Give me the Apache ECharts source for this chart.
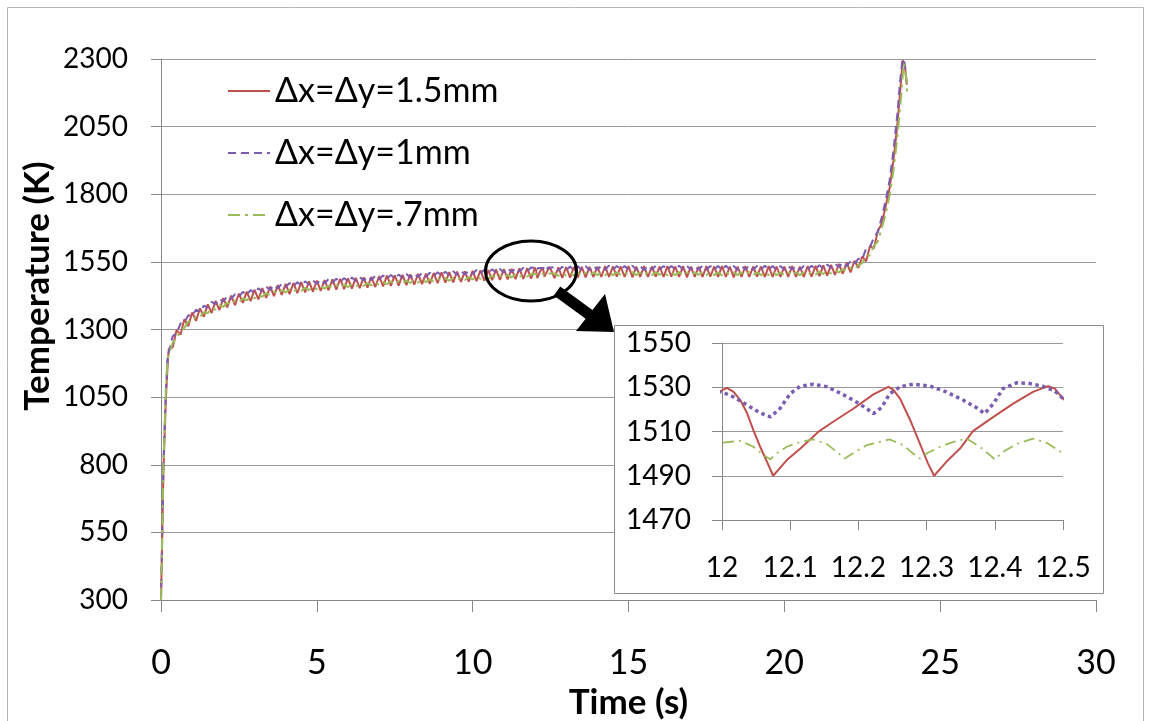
<!DOCTYPE html>
<html>
<head>
<meta charset="utf-8">
<script src="https://cdn.jsdelivr.net/npm/echarts@6/dist/echarts.min.js"></script>
<style>
  html, body { margin: 0; padding: 0; background: #ffffff; }
  #chart { width: 1151px; height: 721px; }
</style>
</head>
<body>
<div id="chart"></div>
<script>
// Series names (grid spacing of each simulation)
const seriesNames = ['Δx=Δy=1.5mm', 'Δx=Δy=1mm', 'Δx=Δy=.7mm'];

// Axis titles and ticks
const timeTitle = 'Time (s)';
const tempTitle = 'Temperature (K)';
const timeTicks = [0, 5, 10, 15, 20, 25, 30];
const tempTicks = [300, 550, 800, 1050, 1300, 1550, 1800, 2050, 2300];
const detailTimeTicks = [12, 12.1, 12.2, 12.3, 12.4, 12.5];
const detailTempTicks = [1470, 1490, 1510, 1530, 1550];

// Initial heating ramp [time s, temperature K]
const rampRed = [[0, 300], [0.04, 540], [0.08, 790], [0.16, 1050], [0.22, 1185]];
const rampPurple = [[0, 300], [0.04, 560], [0.08, 815], [0.15, 1060], [0.21, 1195]];
const rampGreen = [[0, 300], [0.04, 550], [0.08, 800], [0.15, 1055], [0.21, 1190]];

// Sampling times of the oscillating plateau (s)
const plateauTimes = [
  0.25, 0.375, 0.5, 0.625, 0.75, 0.875,
  1, 1.125, 1.25, 1.375, 1.5, 1.625, 1.75, 1.875,
  2, 2.125, 2.25, 2.375, 2.5, 2.625, 2.75, 2.875,
  3, 3.125, 3.25, 3.375, 3.5, 3.625, 3.75, 3.875,
  4, 4.125, 4.25, 4.375, 4.5, 4.625, 4.75, 4.875,
  5, 5.125, 5.25, 5.375, 5.5, 5.625, 5.75, 5.875,
  6, 6.125, 6.25, 6.375, 6.5, 6.625, 6.75, 6.875,
  7, 7.125, 7.25, 7.375, 7.5, 7.625, 7.75, 7.875,
  8, 8.125, 8.25, 8.375, 8.5, 8.625, 8.75, 8.875,
  9, 9.125, 9.25, 9.375, 9.5, 9.625, 9.75, 9.875,
  10, 10.125, 10.25, 10.375, 10.5, 10.625, 10.75, 10.875,
  11, 11.125, 11.25, 11.375, 11.5, 11.625, 11.75, 11.875,
  12.625, 12.75, 12.875,
  13, 13.125, 13.25, 13.375, 13.5, 13.625, 13.75, 13.875,
  14, 14.125, 14.25, 14.375, 14.5, 14.625, 14.75, 14.875,
  15, 15.125, 15.25, 15.375, 15.5, 15.625, 15.75, 15.875,
  16, 16.125, 16.25, 16.375, 16.5, 16.625, 16.75, 16.875,
  17, 17.125, 17.25, 17.375, 17.5, 17.625, 17.75, 17.875,
  18, 18.125, 18.25, 18.375, 18.5, 18.625, 18.75, 18.875,
  19, 19.125, 19.25, 19.375, 19.5, 19.625, 19.75, 19.875,
  20, 20.125, 20.25, 20.375, 20.5, 20.625, 20.75, 20.875,
  21, 21.125, 21.25, 21.375, 21.5, 21.625, 21.75, 21.875,
  22, 22.125, 22.25
];

// Plateau temperatures (K), one per sampling time
const plateauRed = [
  1228, 1234, 1298, 1281, 1338, 1312,
  1363, 1332, 1378, 1347, 1393, 1361, 1406, 1372,
  1416, 1382, 1425, 1390, 1433, 1398, 1440, 1405,
  1447, 1411, 1453, 1417, 1459, 1423, 1464, 1428,
  1469, 1431, 1472, 1434, 1475, 1437, 1478, 1440,
  1481, 1443, 1483, 1445, 1485, 1447, 1487, 1449,
  1489, 1451, 1491, 1453, 1493, 1455, 1495, 1457,
  1497, 1459, 1499, 1461, 1500, 1462, 1502, 1464,
  1504, 1466, 1506, 1468, 1507, 1469, 1509, 1471,
  1511, 1473, 1512, 1474, 1514, 1476, 1515, 1477,
  1517, 1479, 1519, 1480, 1520, 1482, 1522, 1483,
  1523, 1485, 1524, 1486, 1526, 1487, 1527, 1488,
  1490, 1530, 1491,
  1531, 1492, 1531, 1493, 1532, 1493, 1532, 1494,
  1533, 1494, 1534, 1494, 1533, 1495, 1533, 1494,
  1534, 1493, 1533, 1494, 1534, 1494, 1533, 1495,
  1533, 1494, 1534, 1495, 1533, 1494, 1534, 1493,
  1533, 1494, 1533, 1494, 1534, 1495, 1533, 1494,
  1534, 1494, 1533, 1493, 1533, 1494, 1534, 1494,
  1533, 1495, 1533, 1494, 1534, 1494, 1533, 1494,
  1533, 1494, 1534, 1494, 1533, 1494, 1534, 1495,
  1535, 1497, 1537, 1499, 1539, 1502, 1543, 1506,
  1547, 1511, 1554
];
const plateauPurple = [
  1216, 1275, 1286, 1322, 1326, 1353,
  1351, 1373, 1366, 1388, 1381, 1402, 1394, 1413,
  1404, 1423, 1413, 1431, 1421, 1439, 1428, 1446,
  1435, 1452, 1441, 1458, 1447, 1464, 1452, 1469,
  1457, 1472, 1460, 1475, 1463, 1478, 1466, 1481,
  1469, 1484, 1471, 1486, 1473, 1488, 1475, 1490,
  1477, 1492, 1479, 1494, 1481, 1496, 1483, 1498,
  1485, 1500, 1487, 1502, 1488, 1503, 1490, 1505,
  1492, 1507, 1494, 1509, 1495, 1510, 1497, 1512,
  1499, 1514, 1500, 1515, 1502, 1517, 1503, 1518,
  1505, 1520, 1507, 1521, 1508, 1523, 1510, 1524,
  1511, 1526, 1512, 1527, 1514, 1528, 1515, 1529,
  1531, 1518, 1532,
  1519, 1533, 1519, 1534, 1520, 1534, 1520, 1535,
  1521, 1535, 1521, 1536, 1521, 1535, 1522, 1535,
  1521, 1536, 1521, 1535, 1520, 1535, 1521, 1536,
  1522, 1535, 1521, 1535, 1521, 1536, 1521, 1535,
  1521, 1535, 1522, 1536, 1521, 1535, 1521, 1535,
  1520, 1536, 1521, 1535, 1521, 1535, 1522, 1536,
  1521, 1535, 1521, 1536, 1521, 1535, 1521, 1535,
  1521, 1535, 1522, 1535, 1521, 1535, 1522, 1536,
  1523, 1538, 1525, 1540, 1527, 1543, 1531, 1547,
  1535, 1552, 1542
];
const plateauGreen = [
  1196, 1251, 1266, 1298, 1306, 1329,
  1331, 1349, 1346, 1364, 1361, 1378, 1374, 1389,
  1384, 1399, 1393, 1407, 1401, 1415, 1408, 1422,
  1415, 1428, 1421, 1434, 1427, 1440, 1432, 1445,
  1437, 1448, 1440, 1451, 1443, 1454, 1446, 1457,
  1449, 1460, 1451, 1462, 1453, 1464, 1455, 1466,
  1457, 1468, 1459, 1470, 1461, 1472, 1463, 1474,
  1465, 1476, 1467, 1478, 1468, 1479, 1470, 1481,
  1472, 1483, 1474, 1485, 1475, 1486, 1477, 1488,
  1479, 1490, 1480, 1491, 1482, 1493, 1483, 1494,
  1485, 1496, 1487, 1497, 1488, 1499, 1490, 1500,
  1491, 1502, 1492, 1503, 1494, 1504, 1495, 1505,
  1507, 1498, 1508,
  1499, 1509, 1499, 1510, 1500, 1510, 1500, 1511,
  1501, 1511, 1501, 1512, 1501, 1511, 1502, 1511,
  1501, 1512, 1501, 1511, 1500, 1511, 1501, 1512,
  1502, 1511, 1501, 1511, 1501, 1512, 1501, 1511,
  1501, 1511, 1502, 1512, 1501, 1511, 1501, 1511,
  1500, 1512, 1501, 1511, 1501, 1511, 1502, 1512,
  1501, 1511, 1501, 1512, 1501, 1511, 1501, 1511,
  1501, 1511, 1502, 1511, 1501, 1511, 1502, 1512,
  1503, 1514, 1505, 1516, 1507, 1519, 1511, 1523,
  1515, 1528, 1522
];

// Fine detail between 12 s and 12.5 s [time s, temperature K]
const detailRed = [
  [12.000, 1528.6], [12.007, 1529.7], [12.017, 1527.9], [12.027, 1524.1], [12.037, 1518.1],
  [12.046, 1510.6], [12.056, 1503.1], [12.066, 1496.3], [12.075, 1490.0], [12.095, 1497.1],
  [12.115, 1502.3], [12.141, 1509.8], [12.163, 1514.4], [12.193, 1520.4], [12.222, 1526.8],
  [12.244, 1530.2], [12.251, 1528.9], [12.261, 1524.9], [12.276, 1515.1], [12.290, 1504.6],
  [12.302, 1495.6], [12.311, 1490.0], [12.329, 1496.3], [12.349, 1502.3], [12.368, 1510.2],
  [12.398, 1516.6], [12.427, 1522.6], [12.456, 1527.9], [12.478, 1530.5], [12.488, 1529.4],
  [12.500, 1524.9]
];
const detailPurple = [
  [12.000, 1527.9], [12.017, 1525.6], [12.037, 1521.9], [12.056, 1518.4], [12.071, 1516.6],
  [12.085, 1520.4], [12.100, 1527.1], [12.115, 1530.5], [12.134, 1531.4], [12.154, 1530.2],
  [12.173, 1527.4], [12.193, 1524.1], [12.212, 1520.4], [12.222, 1518.1], [12.234, 1520.8],
  [12.246, 1527.1], [12.261, 1530.2], [12.280, 1531.4], [12.305, 1530.5], [12.329, 1527.9],
  [12.354, 1524.1], [12.373, 1520.8], [12.385, 1518.1], [12.398, 1522.6], [12.412, 1529.4],
  [12.432, 1532.0], [12.451, 1531.7], [12.470, 1530.5], [12.488, 1528.3], [12.500, 1524.9]
];
const detailGreen = [
  [12.000, 1504.9], [12.027, 1505.8], [12.046, 1503.1], [12.061, 1499.3], [12.071, 1497.4],
  [12.080, 1500.1], [12.095, 1503.1], [12.115, 1505.3], [12.134, 1506.4], [12.154, 1504.3],
  [12.171, 1500.1], [12.180, 1497.8], [12.193, 1500.4], [12.212, 1503.8], [12.246, 1506.4],
  [12.266, 1503.8], [12.283, 1499.3], [12.290, 1497.8], [12.302, 1500.4], [12.320, 1503.1],
  [12.339, 1505.3], [12.359, 1506.8], [12.378, 1503.1], [12.393, 1499.3], [12.400, 1497.4],
  [12.412, 1500.8], [12.432, 1504.3], [12.456, 1506.8], [12.476, 1504.9], [12.500, 1500.1]
];

// Final temperature run-away [time s, temperature K]
const burstRed = [
  [22.375, 1528], [22.5, 1570], [22.625, 1552], [22.75, 1610], [22.875, 1600], [23, 1665],
  [23.125, 1690], [23.25, 1755], [23.375, 1820], [23.5, 1925], [23.625, 2055], [23.72, 2185],
  [23.8, 2295], [23.87, 2275], [23.93, 2205]
];
const burstPurple = [
  [22.375, 1562], [22.5, 1560], [22.625, 1600], [22.75, 1605], [22.875, 1640], [23, 1660],
  [23.125, 1715], [23.25, 1775], [23.375, 1850], [23.5, 1960], [23.625, 2095], [23.72, 2225],
  [23.79, 2300], [23.86, 2285], [23.92, 2215]
];
const burstGreen = [
  [22.375, 1537], [22.5, 1545], [22.625, 1570], [22.75, 1575], [22.875, 1610], [23, 1625],
  [23.125, 1675], [23.25, 1725], [23.375, 1795], [23.5, 1885], [23.625, 2010], [23.75, 2165],
  [23.83, 2285], [23.89, 2255], [23.94, 2175]
];

// Assemble one time-ordered history per simulation
function history(ramp, plateau, detail, burst) {
  const pts = ramp.slice();
  plateauTimes.forEach(function (t, i) { pts.push([t, plateau[i]]); });
  detail.forEach(function (p) { pts.push(p); });
  burst.forEach(function (p) { pts.push(p); });
  pts.sort(function (a, b) { return a[0] - b[0]; });
  return pts;
}
const histories = [
  history(rampRed, plateauRed, detailRed, burstRed),
  history(rampPurple, plateauPurple, detailPurple, burstPurple),
  history(rampGreen, plateauGreen, detailGreen, burstGreen)
];

const colors = ['#C0504D', '#7A5CB0', '#9BBB59'];
const mainStyles = [
  { width: 2, type: 'solid' },
  { width: 2, type: [8, 5] },
  { width: 2, type: [12, 5, 3, 5] }
];
const detailStyles = [
  { width: 2, type: 'solid', cap: 'butt' },
  { width: 3.5, type: [3.5, 3.5], cap: 'butt' },
  { width: 1.8, type: [11, 5, 2, 5], cap: 'butt' }
];

const FONT = 'Lato, "Open Sans", sans-serif';
const plainNumber = function (v) { return String(v); };
const gridLine = { show: true, lineStyle: { color: '#9a9a9a', width: 1 } };
const axisLineStyle = { show: true, lineStyle: { color: '#888888', width: 1 } };

const series = [];
seriesNames.forEach(function (name, i) {
  series.push({
    name: name, type: 'line', xAxisIndex: 0, yAxisIndex: 0,
    data: histories[i], symbol: 'none', showSymbol: false,
    lineStyle: Object.assign({ color: colors[i] }, mainStyles[i]),
    itemStyle: { color: colors[i] },
    z: 2 + i, silent: true
  });
});
seriesNames.forEach(function (name, i) {
  series.push({
    name: name, type: 'line', xAxisIndex: 1, yAxisIndex: 1,
    data: histories[i], symbol: 'none', showSymbol: false, clip: true,
    lineStyle: Object.assign({ color: colors[i] }, detailStyles[i]),
    itemStyle: { color: colors[i] },
    z: 6 + i, silent: true
  });
});

const chart = echarts.init(document.getElementById('chart'), null, { renderer: 'canvas' });
chart.setOption({
  animation: false,
  backgroundColor: '#ffffff',
  textStyle: { fontFamily: FONT },
  grid: [
    { left: 161, top: 59, width: 935, height: 541, containLabel: false, outerBoundsMode: 'none' },
    { left: 722, top: 343, width: 341, height: 177, containLabel: false, outerBoundsMode: 'none' }
  ],
  legend: {
    data: seriesNames,
    orient: 'vertical',
    left: 222, top: 69,
    itemWidth: 42, itemHeight: 14, itemGap: 28,
    selectedMode: false,
    itemStyle: { opacity: 0 },
    textStyle: { fontFamily: FONT, fontSize: 34, color: '#000000' }
  },
  xAxis: [
    {
      type: 'value', gridIndex: 0, min: 0, max: 30, interval: 5,
      name: timeTitle, nameLocation: 'middle', nameGap: 84,
      nameTextStyle: { fontFamily: FONT, fontSize: 35, fontWeight: 'bold', color: '#000000' },
      axisLine: axisLineStyle,
      axisTick: { show: true, inside: false, length: 12, lineStyle: { color: '#888888' }, customValues: timeTicks },
      axisLabel: { fontFamily: FONT, fontSize: 34, color: '#000000', margin: 46, customValues: timeTicks, formatter: plainNumber },
      splitLine: { show: false }
    },
    {
      type: 'value', gridIndex: 1, min: 12, max: 12.5, z: 5,
      axisLine: axisLineStyle,
      axisTick: { show: true, inside: false, length: 10, lineStyle: { color: '#888888' }, customValues: detailTimeTicks },
      axisLabel: { fontFamily: FONT, fontSize: 28, color: '#000000', margin: 34, customValues: detailTimeTicks, formatter: plainNumber },
      splitLine: { show: false }
    }
  ],
  yAxis: [
    {
      type: 'value', gridIndex: 0, min: 300, max: 2300,
      axisLine: axisLineStyle,
      axisTick: { show: true, inside: false, length: 10, lineStyle: { color: '#888888' }, customValues: tempTicks },
      axisLabel: { fontFamily: FONT, fontSize: 28, color: '#000000', margin: 33, customValues: tempTicks, formatter: plainNumber },
      splitLine: gridLine
    },
    {
      type: 'value', gridIndex: 1, min: 1470, max: 1550, z: 5,
      axisLine: axisLineStyle,
      axisTick: { show: true, inside: false, length: 10, lineStyle: { color: '#888888' }, customValues: detailTempTicks },
      axisLabel: { fontFamily: FONT, fontSize: 28, color: '#000000', margin: 31, customValues: detailTempTicks, formatter: plainNumber },
      splitLine: gridLine
    }
  ],
  graphic: {
    elements: [
      { type: 'rect', z: 0, silent: true, shape: { x: 7.5, y: 7.5, width: 1136, height: 720 },
        style: { fill: null, stroke: '#b5b5b5', lineWidth: 1 } },
      { type: 'rect', z: 1, silent: true, shape: { x: 614.5, y: 325.5, width: 489, height: 268 },
        style: { fill: '#ffffff', stroke: '#8a8a8a', lineWidth: 1 } },
      { type: 'text', z: 10, silent: true, x: 38, y: 286, rotation: Math.PI / 2,
        style: { text: tempTitle, fill: '#000000', fontFamily: FONT, fontSize: 35, fontWeight: 'bold',
                 align: 'center', verticalAlign: 'middle' } },
      { type: 'ellipse', z: 20, silent: true, shape: { cx: 531, cy: 271, rx: 45.5, ry: 30 },
        style: { fill: null, stroke: '#000000', lineWidth: 3 } },
      { type: 'line', z: 20, silent: true, shape: { x1: 557, y1: 291, x2: 594, y2: 318 },
        style: { stroke: '#000000', lineWidth: 11 } },
      { type: 'polygon', z: 20, silent: true, shape: { points: [[576, 331], [605, 294], [614, 332]] },
        style: { fill: '#000000' } }
    ]
  },
  series: series
});
</script>
</body>
</html>
